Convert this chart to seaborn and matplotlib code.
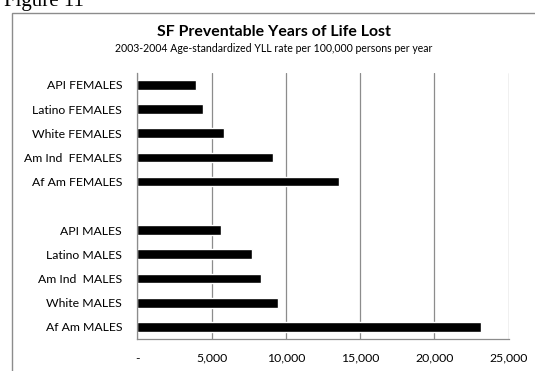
import numpy as np
import pandas as pd
import matplotlib
matplotlib.use("Agg")
import matplotlib.pyplot as plt
import seaborn as sns
from matplotlib.patches import Rectangle

groups = ["API FEMALES", "Latino FEMALES", "White FEMALES", "Am Ind  FEMALES",
          "Af Am FEMALES", "API MALES", "Latino MALES", "Am Ind  MALES",
          "White MALES", "Af Am MALES"]
yll_rate = [3950, 4400, 5830, 9150, 13590, 5610, 7720, 8350, 9470, 23150]
# category order top to bottom, with a blank slot between females and males
slot_order = groups[:5] + [" "] + groups[5:]
x_ticks = [0, 5000, 10000, 15000, 20000, 25000]
x_tick_labels = ["-", "5,000", "10,000", "15,000", "20,000", "25,000"]

sns.set_theme(style="white")
plt.rcParams["font.family"] = ["Lato", "DejaVu Sans"]

df = pd.DataFrame({"group": groups, "rate": yll_rate})

W, H = 535, 371
fig = plt.figure(figsize=(W / 100, H / 100), dpi=100)
fig.patch.set_facecolor("white")
ax = fig.add_axes([137.3 / W, 1 - 339 / H, (508.7 - 137.3) / W, (339 - 72.7) / H])

sns.barplot(data=df, y="group", x="rate", order=slot_order, orient="h",
            color="black", width=0.4, ax=ax, saturation=1)

grid_c = "#8c8c8c"
ax.set_xlim(0, 25000)
ax.set_ylim(10.5, -0.5)
ax.set_xticks(x_ticks)
ax.set_xticklabels(x_tick_labels, fontsize=8.8, color="black")
ax.xaxis.grid(True, color=grid_c, linewidth=0.9)
ax.set_axisbelow(True)
ax.tick_params(axis="x", direction="out", length=4, width=0.9, color=grid_c, pad=6)

# category ticks sit on slot boundaries, labels at slot centers
ax.set_yticks(np.arange(-0.5, 11, 1))
ax.set_yticklabels([])
ax.set_yticks(np.arange(11), minor=True)
ax.set_yticklabels(slot_order, minor=True, fontsize=8.8, color="black")
ax.tick_params(axis="y", which="major", direction="out", length=4, width=0.9, color=grid_c)
ax.tick_params(axis="y", which="minor", length=0, pad=11)

ax.set_xlabel("")
ax.set_ylabel("")
for side in ["top", "right"]:
    ax.spines[side].set_visible(False)
for side in ["left", "bottom"]:
    ax.spines[side].set_color(grid_c)
    ax.spines[side].set_linewidth(0.9)

# chart frame
fig.patches.append(Rectangle((12 / W, -0.05), 1.2, 1 - 12.7 / H + 0.05,
                             transform=fig.transFigure, fill=False,
                             edgecolor="#8c8c8c", linewidth=1.0))

fig.text(274 / W, 1 - 32 / H, "SF Preventable Years of Life Lost", ha="center",
         va="center", fontsize=11.4, fontweight="bold", color="black")
fig.text(274 / W, 1 - 48 / H,
         "2003-2004 Age-standardized YLL rate per 100,000 persons per year",
         ha="center", va="center", fontsize=7.6, color="black")
fig.text(4 / W, 1 - 6 / H, "Figure 11", ha="left", va="baseline",
         fontsize=15, family="Liberation Serif", color="black")

fig.savefig("out.png", dpi=100)
